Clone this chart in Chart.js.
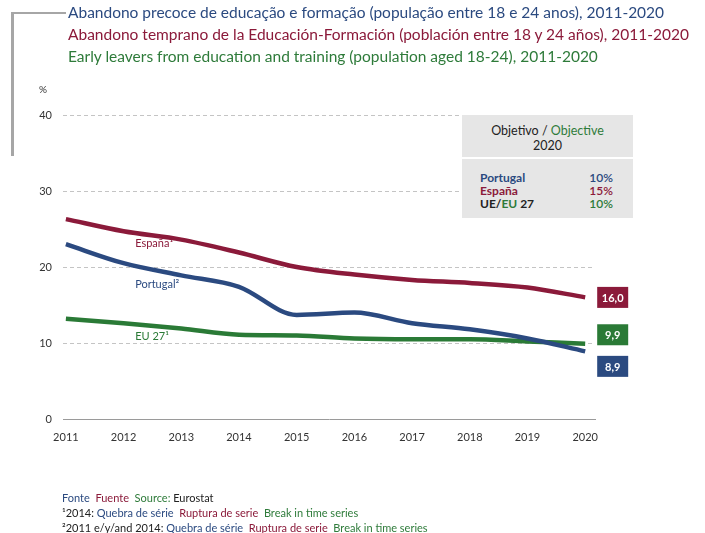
<!DOCTYPE html>
<html><head><meta charset="utf-8">
<script src="https://cdn.jsdelivr.net/npm/chart.js@4/dist/chart.umd.min.js"></script>
<style>
html,body{margin:0;padding:0;background:#fff;}
body{width:705px;height:533px;position:relative;overflow:hidden;font-family:Lato,"Open Sans",sans-serif;}
#c{position:absolute;left:0;top:0;}
.t{position:absolute;left:68px;font-size:15.5px;white-space:nowrap;line-height:20px;}
.b{position:absolute;background:#a6a6a6;}
#leg{position:absolute;left:462px;top:115px;width:171px;height:103px;background:#e6e6e6;font-size:12.5px;color:#222;}
#leg .top{position:absolute;left:0;top:0;width:100%;height:44px;text-align:center;line-height:15px;padding-top:8px;box-sizing:border-box;border-bottom:2px solid #fff;}
#leg .row{position:absolute;left:18px;right:20px;font-weight:bold;line-height:13px;font-size:12px;}
#leg .row span.r{position:absolute;right:0;font-weight:600;}
.f{position:absolute;left:62px;font-size:11px;white-space:pre;line-height:13px;color:#222;}
.pt{color:#2b4a80}.es{color:#8b1a3a}.en{color:#2e7b3a}
</style></head><body>
<canvas id="c" width="705" height="533"></canvas>
<div class="b" style="left:11px;top:12px;width:55px;height:2px;"></div>
<div class="b" style="left:11px;top:12px;width:3px;height:144px;"></div>
<div class="t pt" style="top:2px;">Abandono precoce de educação e formação (população entre 18 e 24 anos), 2011-2020</div>
<div class="t es" style="top:24px;">Abandono temprano de la Educación-Formación (población entre 18 y 24 años), 2011-2020</div>
<div class="t en" style="top:46px;">Early leavers from education and training (population aged 18-24), 2011-2020</div>
<div id="leg">
  <div class="top">Objetivo / <span class="en">Objective</span><br>2020</div>
  <div class="row pt" style="top:56px;">Portugal<span class="r">10%</span></div>
  <div class="row es" style="top:69px;">España<span class="r">15%</span></div>
  <div class="row" style="top:82px;">UE/<span class="en">EU</span> 27<span class="r en">10%</span></div>
</div>
<div class="f" style="top:491px;"><span class="pt">Fonte</span>  <span class="es">Fuente</span>  <span class="en">Source:</span> Eurostat</div>
<div class="f" style="top:506px;">¹2014: <span class="pt">Quebra de série</span>  <span class="es">Ruptura de serie</span>  <span class="en">Break in time series</span></div>
<div class="f" style="top:521px;">²2011 e/y/and 2014: <span class="pt">Quebra de série</span>  <span class="es">Ruptura de serie</span>  <span class="en">Break in time series</span></div>
<script>
const years = [2011,2012,2013,2014,2015,2016,2017,2018,2019,2020];
const espana = [26.3,24.7,23.6,21.9,20.0,19.0,18.3,17.9,17.3,16.0];
const portugal = [23.0,20.5,18.9,17.4,13.7,14.0,12.6,11.8,10.6,8.9];
const eu27 = [13.2,12.6,11.9,11.1,11.0,10.6,10.5,10.5,10.2,9.9];
const yTicks = [0,10,20,30,40];
const seriesNames = ['España¹','Portugal²','EU 27¹'];

const colors = ['#8b1a3a','#2b4a80','#2a7a36'];
const endLabelShift = [0,15,-9]; // px shifts of value boxes to avoid overlap
const nameLabelDy = [12,21,13];

const toPts = arr => arr.map((v,i)=>({x:years[i],y:v}));
const labelsPlugin = {
  id:'labelsPlugin',
  afterDatasetsDraw(chart){
    const ctx = chart.ctx, xs = chart.scales.x, ys = chart.scales.y;
    ctx.save();
    chart.data.datasets.forEach((ds,i)=>{
      const vals = ds.data;
      const last = vals[vals.length-1];
      const px = xs.getPixelForValue(last.x);
      const py = ys.getPixelForValue(last.y) + endLabelShift[i];
      const bx = px + 12, bw = 31, bh = 21;
      ctx.fillStyle = colors[i];
      ctx.fillRect(bx, py - bh/2, bw, bh);
      ctx.fillStyle = '#fff';
      ctx.font = 'bold 11px Lato, sans-serif';
      ctx.textAlign = 'center'; ctx.textBaseline = 'middle';
      ctx.fillText(last.y.toFixed(1).replace('.',','), bx + bw/2, py + 1);
      // series name label, below the line near 2012
      const lx = xs.getPixelForValue(2012.2);
      const ly = ys.getPixelForValue(vals[1].y) + nameLabelDy[i];
      ctx.fillStyle = colors[i];
      ctx.font = '11px Lato, sans-serif';
      ctx.textAlign = 'left';
      ctx.fillText(seriesNames[i], lx, ly);
    });
    ctx.restore();
  }
};
const pctPlugin = {
  id:'pct',
  afterDraw(chart){
    const ctx=chart.ctx; ctx.save();
    ctx.fillStyle='#333'; ctx.font='10px Lato, sans-serif'; ctx.textAlign='left'; ctx.textBaseline='middle';
    ctx.fillText('%', 39, chart.chartArea.top - 25);
    ctx.restore();
  }
};
new Chart(document.getElementById('c'), {
  type:'line',
  data:{datasets:[
    {label:'España', data:toPts(espana), borderColor:colors[0]},
    {label:'Portugal', data:toPts(portugal), borderColor:colors[1]},
    {label:'EU 27', data:toPts(eu27), borderColor:colors[2]}
  ].map(d=>Object.assign(d,{borderWidth:4.5,pointRadius:0,tension:0.4,fill:false,cubicInterpolationMode:'monotone'}))},
  options:{
    responsive:false, animation:false, devicePixelRatio:1,
    layout:{padding:{left:0,right:110,top:115,bottom:84}},
    plugins:{legend:{display:false},tooltip:{enabled:false}},
    scales:{
      x:{type:'linear', min:2010.95, max:2020.17,
        afterBuildTicks:s=>{s.ticks=years.map(v=>({value:v}));},
        afterFit:s=>{s.height=30;},
        grid:{display:false,drawTicks:false},
        border:{display:true,color:'#9a9a9a',width:1},
        ticks:{padding:12,color:'#333',font:{family:'Lato',size:11},callback:v=>String(v),maxRotation:0,autoSkip:false}},
      y:{min:0,max:40,
        afterBuildTicks:s=>{s.ticks=yTicks.map(v=>({value:v}));},
        afterFit:s=>{s.width=63;},
        grid:{drawTicks:false,color:c=>c.tick&&c.tick.value===0?'rgba(0,0,0,0)':'#c4c4c4',lineWidth:1},
        border:{display:false,dash:[4,3]},
        ticks:{padding:11,color:'#333',font:{family:'Lato',size:11}}}
    }
  },
  plugins:[labelsPlugin,pctPlugin]
});
</script>
</body></html>
